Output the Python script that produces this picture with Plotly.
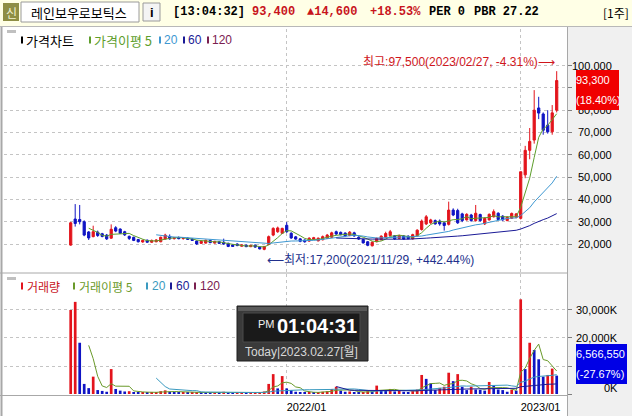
import plotly.graph_objects as go
import pandas as pd

W, H = 632, 416

# ---------------- data ----------------
weeks = [d.strftime("%Y-%m-%d") for d in pd.date_range("2021-02-01", periods=109, freq="7D")]

open_ = [19500,31200,31000,30000,25400,23300,25300,24600,24000,22600,
         27300,26700,25500,23400,23000,22000,20900,21700,20800,21000,
         21000,22200,23400,22400,22900,22500,22600,22200,21300,20300,
         20400,21600,20400,21000,20800,20300,19600,20000,19000,19500,
         18800,19500,18600,17600,19800,24000,25500,24800,28400,24800,
         23200,22300,21800,21300,22200,21400,21900,22600,23000,25500,
         25200,24900,23800,25000,23000,22000,21000,19200,21000,21900,
         23000,23800,23700,22500,23600,23500,22300,23700,26500,29000,
         29500,30500,30300,29500,28800,35200,35000,33500,30800,33000,
         30500,33200,29000,30800,32200,33800,32500,30500,31500,32000,
         31500,51000,62000,66600,81000,78300,73300,70300,80000]
high = [29900,37900,37500,30600,25800,28200,26000,25000,24500,28800,
        28000,27000,25900,23800,23300,22300,22000,22000,22000,22200,
        23300,24600,24300,23200,23400,23000,23000,22600,21600,21400,
        21900,21900,21400,21300,22400,20600,19900,20300,19900,19700,
        19600,19800,18900,19100,23800,27500,27800,27300,29800,25300,
        23600,22600,22000,23000,23200,22900,23800,24500,25500,26000,
        25600,25200,25800,25500,23500,22300,21300,21200,22900,23900,
        25500,26300,24000,24200,24000,23900,24600,26600,31000,33000,
        31300,31000,31000,30000,39000,36000,35800,34000,33800,33500,
        37500,33600,31900,33700,35500,34200,32900,32400,34100,33900,
        52400,64000,72000,89000,86000,79000,80000,82300,97500]
low = [19200,27800,28800,23500,21800,23000,23200,23000,21800,22400,
       25300,24500,23600,21800,21300,20700,20600,20500,20500,20800,
       20800,22000,21900,22000,22100,21900,21800,21400,19600,20000,
       20200,20400,20200,20000,19600,18600,18700,19000,18800,18600,
       18600,18300,17600,17200,19500,23500,25000,24500,25000,22300,
       21900,20800,20600,21000,21800,21200,21600,22300,22800,24000,
       23900,23300,23500,23300,21800,20200,19000,18900,20800,21600,
       22800,23500,21900,22200,21900,22100,22000,23400,26000,28500,
       29000,28700,28200,26000,28300,32500,29000,29800,30500,30000,
       30000,30000,28500,30500,31900,30700,30400,30200,31200,31500,
       31000,49500,58000,65000,76000,69000,69500,69000,79000]
close = [29500,29200,30000,24000,22700,25500,23800,23400,22300,26600,
         25800,24800,24100,22500,21600,21000,21600,20800,21600,21800,
         23000,24000,22300,22900,22400,22600,22100,21600,20000,21200,
         21700,20600,21200,20300,20000,18900,18900,19300,19600,18800,
         19400,18600,17800,18900,23300,27000,27200,27000,25500,22700,
         22200,21200,21000,22600,22800,22600,23300,24000,25000,24500,
         24200,23600,25300,23600,22200,20500,19400,20800,22500,23500,
         24700,25500,22300,23800,22200,22400,24200,26200,30300,32200,
         30800,29000,29000,28300,35200,33000,29500,30500,33300,30500,
         33800,30500,31500,33300,34500,31000,30800,32000,33700,33500,
         52400,62000,66000,80000,78700,71000,70300,78800,93300]
volume = [30000000,32900000,18300000,3600000,2100000,6200000,1400000,1100000,800000,8900000,
          1800000,1200000,900000,1000000,600000,500000,700000,500000,600000,700000,
          1000000,1300000,800000,600000,500000,600000,400000,500000,700000,600000,
          500000,400000,500000,400000,800000,600000,400000,400000,500000,300000,
          400000,500000,700000,900000,3600000,7100000,2000000,6400000,2000000,1400000,
          800000,600000,500000,700000,500000,600000,800000,1000000,1800000,2600000,
          1200000,800000,900000,700000,600000,700000,1000000,900000,3000000,1400000,
          1200000,1800000,900000,1400000,800000,700000,1000000,1600000,6800000,5400000,
          3800000,1400000,2200000,2600000,7600000,4600000,7100000,2600000,1400000,2600000,
          1600000,1500000,1200000,4300000,2900000,1600000,1400000,800000,1500000,1200000,
          33800000,8900000,18300000,15700000,12400000,6200000,6800000,9078000,6566550]

price_ticks = [20000, 30000, 40000, 50000, 60000, 70000, 80000, 90000, 100000]
# 90,000 sits fully behind the current-price box in the reference, so it shows no label
price_tick_labels = ["20,000", "30,000", "40,000", "50,000", "60,000", "70,000", "80,000", "", "100,000"]
volume_ticks = [0, 10000000, 20000000, 30000000]
# 10,000K sits fully behind the current-volume box in the reference
volume_tick_labels = ["0K", "", "20,000K", "30,000K"]
x_tick_weeks = ["2022-01-03", "2023-01-02"]
x_tick_labels = ["2022/01", "2023/01"]
ma_periods = [5, 20, 60, 120]

# ---------------- styling ----------------
RED = "#E3141C"
BLUE = "#0F14C4"
MA_COLORS = {5: "#5E9E2C", 20: "#3E98D2", 60: "#1A1A96", 120: "#7A2050"}
VMA_COLORS = {5: "#6A9A2A", 20: "#3A9AC0", 60: "#1A1A96", 120: "#7A2050"}
NUMFONT = "Liberation Sans, Arial, Noto Sans CJK KR"
KFONT = "Noto Sans CJK KR, Liberation Sans"


def fx(px):
    return px / W


def fy(py):
    return 1 - py / H


# axis geometry (pixels)
X_L, X_R = 4, 567
P_TOP, P_BOT = 29, 272
V_TOP, V_BOT = 274, 395
x_first, x_step = 70.7, 4.5
x_range = [(X_L - x_first) / x_step, (X_R - x_first) / x_step]
p_per_px = 448.4
p_range = [20000 - (P_BOT - 244) * p_per_px, 20000 + (244 - P_TOP) * p_per_px]
v_per_px = 357100
v_range = [-(V_BOT - 394) * v_per_px, (394 - V_TOP) * v_per_px]

s_close = pd.Series(close, dtype=float)
s_vol = pd.Series(volume, dtype=float)
vol_colors = [RED if i == 0 or volume[i] >= volume[i - 1] else BLUE for i in range(len(volume))]

fig = go.Figure()
fig.add_trace(go.Candlestick(
    x=weeks, open=open_, high=high, low=low, close=close,
    increasing=dict(line=dict(color=RED, width=1), fillcolor=RED),
    decreasing=dict(line=dict(color=BLUE, width=1), fillcolor=BLUE),
    whiskerwidth=0, xaxis="x", yaxis="y", showlegend=False, hoverinfo="skip"))
for n in ma_periods:
    fig.add_trace(go.Scatter(x=weeks, y=s_close.rolling(n).mean(), mode="lines",
                             line=dict(color=MA_COLORS[n], width=1),
                             xaxis="x", yaxis="y", showlegend=False, hoverinfo="skip"))
fig.add_trace(go.Bar(x=weeks, y=volume, marker=dict(color=vol_colors, line=dict(width=0)),
                     xaxis="x2", yaxis="y2", showlegend=False, hoverinfo="skip"))
for n in ma_periods:
    fig.add_trace(go.Scatter(x=weeks, y=s_vol.rolling(n).mean(), mode="lines",
                             line=dict(color=VMA_COLORS[n], width=1),
                             xaxis="x2", yaxis="y2", showlegend=False, hoverinfo="skip"))

grid = dict(showgrid=True, gridcolor="#C4C4C4", griddash="dot", gridwidth=1, zeroline=False)

shapes = []
annotations = []


def rect(x0, y0, x1, y1, fill, line=None, lw=1, layer="below"):
    shapes.append(dict(type="rect", xref="paper", yref="paper", x0=fx(x0), x1=fx(x1), y0=fy(y1), y1=fy(y0),
                       fillcolor=fill, line=dict(color=line or fill, width=lw if line else 0), layer=layer))


def hline(x0, x1, y, color, w=1, layer="below"):
    shapes.append(dict(type="line", xref="paper", yref="paper", x0=fx(x0), x1=fx(x1), y0=fy(y), y1=fy(y),
                       line=dict(color=color, width=w), layer=layer))


def vline(x, y0, y1, color, w=1, layer="below"):
    shapes.append(dict(type="line", xref="paper", yref="paper", x0=fx(x), x1=fx(x), y0=fy(y0), y1=fy(y1),
                       line=dict(color=color, width=w), layer=layer))


def text(x, y, s, color="#000", size=12, family=NUMFONT, anchor="left", bold=False, yanchor="middle"):
    if bold:
        s = "<b>" + s + "</b>"
    annotations.append(dict(x=fx(x), y=fy(y), xref="paper", yref="paper", text=s, showarrow=False,
                            xanchor=anchor, yanchor=yanchor, font=dict(color=color, size=size, family=family),
                            borderpad=0))


def box_text(x0, y0, w, h, s, bg, size=11):
    annotations.append(dict(x=fx(x0), y=fy(y0), xref="paper", yref="paper", text=s, showarrow=False,
                            xanchor="left", yanchor="top", width=w, height=h, align="left", valign="middle",
                            bgcolor=bg, borderpad=0, borderwidth=0,
                            font=dict(color="#FFFFFF", size=size, family=NUMFONT)))


# toolbar
rect(0, 0, 632, 26, "#FFFFE6")
hline(0, 632, 26.5, "#B8B8B8")
rect(0, 27, 632, 416, "#FFFFFF")
rect(X_R, 27, 632, 416, "#F0F0F0")
vline(X_R + 0.5, 27, 416, "#A8A8A8")
vline(1.5, 27, 416, "#A8A8A8", 2)
hline(0, X_R, 273, "#A8A8A8")
hline(0, X_R, V_BOT + 0.5, "#A8A8A8")
rect(3, 3, 19, 21, "#8E8E44")
text(11, 12, "신", "#F2F2D0", 12, KFONT, anchor="center")
rect(21, 2, 139, 22, "#FFFFFF", "#9A9A9A")
text(30, 12, "레인보우로보틱스", "#000", 13, KFONT)
rect(143, 3, 160, 21, "#F4F4F4", "#9A9A9A")
text(151.5, 12, "i", "#000", 13, NUMFONT, anchor="center", bold=True)
MONO = "Liberation Mono, DejaVu Sans Mono"
text(172, 12, "[13:04:32]", "#000", 12, MONO, bold=True)
text(251, 12, "93,400", "#C8141C", 12, MONO, bold=True)
text(306, 12, "▲14,600", "#C8141C", 12, MONO, bold=True)
text(369, 12, "+18.53%", "#C8141C", 12, MONO, bold=True)
text(428, 12, "PER 0", "#000", 12, MONO, bold=True)
text(473, 12, "PBR 27.22", "#000", 12, MONO, bold=True)
text(630, 12, "[1주]", "#000", 12, KFONT, anchor="right")

# panel header grey tabs
rect(7, 30, 16, 33, "#C0C0C0")
rect(7, 277, 16, 280, "#C0C0C0")

# legends
legend_price = [(21, "가격차트", "#000000", "#000000", 13, KFONT),
                (89, "가격이평 5", MA_COLORS[5], MA_COLORS[5], 13, KFONT),
                (159, "20", MA_COLORS[20], MA_COLORS[20], 12, NUMFONT),
                (183, "60", MA_COLORS[60], MA_COLORS[60], 12, NUMFONT),
                (207, "120", MA_COLORS[120], MA_COLORS[120], 12, NUMFONT)]
for x0, s, mc, tc, sz, fam in legend_price:
    rect(x0, 36.5, x0 + 2, 43.5, mc, layer="above")
    text(x0 + 4, 40, s, tc, sz, fam)
legend_vol = [(21, "거래량", RED, "#C8141C", 12, KFONT),
              (73, "거래이평 5", VMA_COLORS[5], VMA_COLORS[5], 12, KFONT),
              (146, "20", VMA_COLORS[20], VMA_COLORS[20], 12, NUMFONT),
              (170, "60", VMA_COLORS[60], VMA_COLORS[60], 12, NUMFONT),
              (194, "120", VMA_COLORS[120], VMA_COLORS[120], 12, NUMFONT)]
for x0, s, mc, tc, sz, fam in legend_vol:
    rect(x0, 282.5, x0 + 2, 289.5, mc, layer="above")
    text(x0 + 5, 286, s, tc, sz, fam)

# axis tick labels (right side)
for v, s in zip(price_ticks, price_tick_labels):
    if s:
        annotations.append(dict(x=fx(613), y=v, xref="paper", yref="y", text=s, showarrow=False,
                                xanchor="right", yanchor="middle", borderpad=0,
                                font=dict(size=11, color="#000", family=NUMFONT)))
for v, s in zip(volume_ticks, volume_tick_labels):
    if s:
        annotations.append(dict(x=fx(619), y=v, xref="paper", yref="y2", text=s, showarrow=False,
                                xanchor="right", yanchor="middle", borderpad=0, yshift=6 if v == 0 else 0,
                                font=dict(size=11, color="#000", family=NUMFONT)))

# high / low annotations
text(362, 62, "최고:97,500(2023/02/27, -4.31%)⟶", "#D0161C", 12, NUMFONT)
text(266, 260, "⟵최저:17,200(2021/11/29, +442.44%)", "#22308C", 12, NUMFONT)

# current price box (covers the axis labels behind it)
box_text(576, 70, 43, 20, "93,300", "#F00000")
box_text(576, 90, 43, 20, "(18.40%)", "#F00000")
# current volume box
box_text(576, 344, 51, 19.5, "6,566,550", "#0000E6")
box_text(576, 363.5, 51, 19.5, "(-27.67%)", "#0000E6")

# clock widget
rect(237, 306, 368, 361, "#3A3A3A", "#1E1E1E", layer="above")
rect(238, 307, 367, 311, "#5A5A5A", layer="above")
rect(243, 313, 360, 342, "#1A1A1A", "#4A4A4A", layer="above")
text(257, 324, "PM", "#F0F0F0", 11, NUMFONT)
text(276, 326, "01:04:31", "#FFFFFF", 20, NUMFONT, bold=True)
text(244, 352, "Today|2023.02.27[월]", "#D8D8D8", 12, NUMFONT)

fig.update_layout(
    width=W, height=H, margin=dict(l=0, r=0, t=0, b=0),
    paper_bgcolor="#FFFFFF", plot_bgcolor="rgba(0,0,0,0)",
    showlegend=False, bargap=0.4,
    xaxis=dict(domain=[fx(X_L), fx(X_R)], type="category", range=x_range, anchor="y",
               tickvals=x_tick_weeks, showticklabels=False, ticks="", rangeslider=dict(visible=False),
               showline=False, **grid),
    xaxis2=dict(domain=[fx(X_L), fx(X_R)], type="category", range=x_range, anchor="y2", matches="x",
                tickvals=x_tick_weeks, ticktext=x_tick_labels, ticks="", ticklabelposition="outside right",
                ticklabelstandoff=4,
                tickfont=dict(size=11, color="#000", family=NUMFONT), showline=False, **grid),
    yaxis=dict(domain=[fy(P_BOT), fy(P_TOP)], range=p_range, side="right", anchor="x",
               tickvals=price_ticks, showticklabels=False, ticks="outside", ticklen=4, tickcolor="#808080",
               showline=False, **grid),
    yaxis2=dict(domain=[fy(V_BOT), fy(V_TOP)], range=v_range, side="right", anchor="x2",
                tickvals=volume_ticks, showticklabels=False, ticks="outside", ticklen=4, tickcolor="#808080",
                showline=False, **grid),
    shapes=shapes, annotations=annotations,
)

fig.write_html("out.html", config={"displayModeBar": False},
               post_script="document.body.style.margin='0';document.body.style.overflow='hidden';")
